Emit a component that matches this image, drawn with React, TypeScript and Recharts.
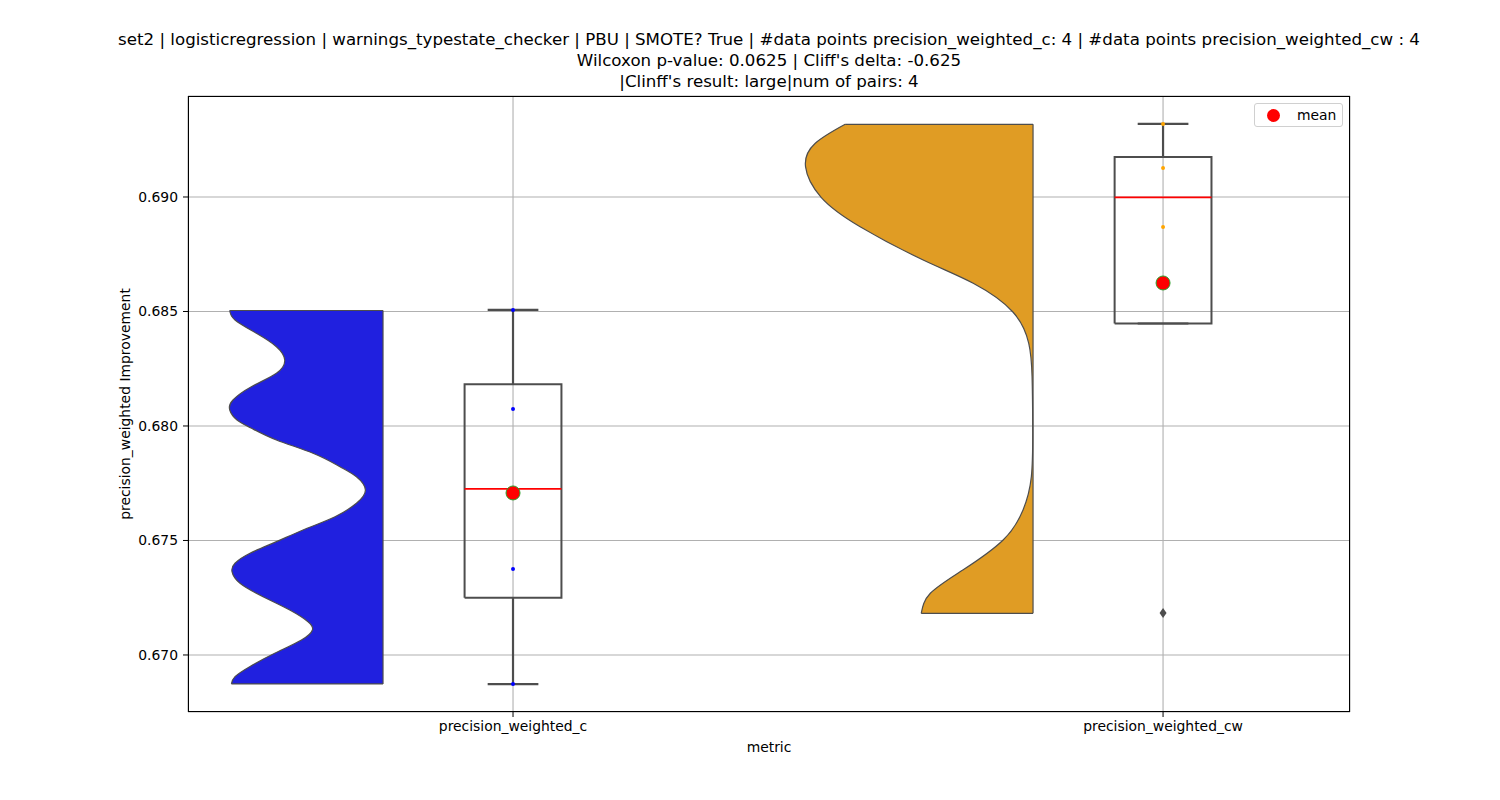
import React from "react";
import {
  Area,
  CartesianGrid,
  ComposedChart,
  Line,
  Scatter,
  XAxis,
  YAxis,
} from "recharts";

const categories = ["precision_weighted_c", "precision_weighted_cw"];
const yTicks = [0.67, 0.675, 0.68, 0.685, 0.69];

// raw points per metric
const pointsC = [0.68507, 0.68074, 0.67376, 0.66873];
const pointsCw = [0.69319, 0.69127, 0.68869, 0.67183];

// box stats
const medians = [0.67725, 0.68998];
const means = [0.677075, 0.686245];
const q1s = [0.6725, 0.684475];
const q3s = [0.68182, 0.69175];
const whiskerLow = [0.66873, 0.684475];
const whiskerHigh = [0.68507, 0.69319];
const outliersCw = [0.67183];

// half violin profiles (value, width in category units)
const violinCValues = [
  0.685044, 0.684629, 0.684048, 0.683463, 0.682882, 0.682301, 0.681716,
  0.681135, 0.680699, 0.680262, 0.679913, 0.679389, 0.678808, 0.678223,
  0.677786, 0.677205, 0.676624, 0.676039, 0.675459, 0.674948, 0.674441,
  0.674004, 0.673638, 0.673131, 0.672546, 0.671965, 0.671454, 0.671092,
  0.670655, 0.670074, 0.669489, 0.669052, 0.668734,
];
const violinCWidths = [
  0.2358, 0.2277, 0.1948, 0.164, 0.1512, 0.164, 0.2025, 0.2308, 0.2358,
  0.2246, 0.2031, 0.164, 0.1077, 0.0662, 0.0409, 0.0271, 0.0409, 0.0738,
  0.1231, 0.164, 0.2046, 0.2277, 0.2323, 0.22, 0.1846, 0.1435, 0.1154,
  0.1086, 0.1255, 0.1666, 0.2051, 0.2277, 0.2332,
];
const violinCwValues = [
  0.693175, 0.692345, 0.691323, 0.689987, 0.688703, 0.687249, 0.686231,
  0.684978, 0.683611, 0.682153, 0.679969, 0.677786, 0.676332, 0.675022,
  0.673712, 0.672694, 0.671821,
];
const violinCwWidths = [
  0.289, 0.335, 0.35, 0.326, 0.266, 0.169, 0.092, 0.031, 0.0066, 0.0015,
  0.0005, 0.0026, 0.0154, 0.046, 0.108, 0.158, 0.172,
];

const FONT = "DejaVu Sans, sans-serif";
const EDGE = "#4d4d4d";
const VIOLIN_GAP = 0.2;
const BOX_HALF = 0.0745;
const CAP_HALF = 0.039;

function violinData(center: number, values: number[], widths: number[]) {
  const base = center - VIOLIN_GAP;
  return values.map((v, i) => ({ v, r: [base, base - widths[i]] }));
}

function endCap(center: number, v: number, w: number) {
  const base = center - VIOLIN_GAP;
  return [
    { v, x: base },
    { v, x: base - w },
  ];
}

function boxOutline(i: number) {
  return [
    { x: i - BOX_HALF, v: q1s[i] },
    { x: i + BOX_HALF, v: q1s[i] },
    { x: i + BOX_HALF, v: q3s[i] },
    { x: i - BOX_HALF, v: q3s[i] },
    { x: i - BOX_HALF, v: q1s[i] },
  ];
}

const seg = (x0: number, v0: number, x1: number, v1: number) => [
  { x: x0, v: v0 },
  { x: x1, v: v1 },
];

const MeanDot = (props: any) => (
  <circle cx={props.cx} cy={props.cy} r={7} fill="#ff0000" stroke="#2ca02c" strokeWidth={1} />
);
const smallDot = (color: string) => (props: any) =>
  <circle cx={props.cx} cy={props.cy} r={2} fill={color} />;
const Diamond = (props: any) => (
  <path
    d={`M${props.cx},${props.cy - 5} L${props.cx + 3.5},${props.cy} L${props.cx},${props.cy + 5} L${props.cx - 3.5},${props.cy} Z`}
    fill={EDGE}
  />
);

export default function App() {
  const violinC = violinData(0, violinCValues, violinCWidths);
  const violinCw = violinData(1, violinCwValues, violinCwWidths);
  const tick = { fill: "#000", fontSize: 13.9, fontFamily: FONT };
  const lastC = violinCValues.length - 1;
  const lastCw = violinCwValues.length - 1;

  const boxLines: { x: number; v: number }[][] = [];
  const whiskers: { x: number; v: number }[][] = [];
  const medianLines: { x: number; v: number }[][] = [];
  [0, 1].forEach((i) => {
    boxLines.push(boxOutline(i));
    whiskers.push(seg(i, whiskerLow[i], i, q1s[i]));
    whiskers.push(seg(i, q3s[i], i, whiskerHigh[i]));
    whiskers.push(seg(i - CAP_HALF, whiskerLow[i], i + CAP_HALF, whiskerLow[i]));
    whiskers.push(seg(i - CAP_HALF, whiskerHigh[i], i + CAP_HALF, whiskerHigh[i]));
    medianLines.push(seg(i - BOX_HALF, medians[i], i + BOX_HALF, medians[i]));
  });

  return (
    <div style={{ position: "absolute", left: 0, top: 0, width: 1500, height: 800, background: "#fff", fontFamily: FONT }}>
      <ComposedChart
        width={1500}
        height={800}
        layout="vertical"
        margin={{ top: 96, right: 150, bottom: 48, left: 108 }}
      >
        <XAxis
          type="number"
          dataKey="x"
          domain={[-0.5, 1.2876]}
          allowDataOverflow
          ticks={[0, 1]}
          tickFormatter={(i: number) => categories[i] ?? ""}
          height={40}
          tick={tick}
          tickSize={5}
          tickMargin={4}
          axisLine={false}
          tickLine={{ stroke: "#000" }}
        />
        <YAxis
          type="number"
          dataKey="v"
          reversed
          domain={[0.66751, 0.69441]}
          allowDataOverflow
          ticks={yTicks}
          tickFormatter={(v: number) => v.toFixed(3)}
          width={80}
          tick={tick}
          tickSize={5}
          tickMargin={5}
          axisLine={false}
          tickLine={{ stroke: "#000" }}
        />
        <Area data={violinC} dataKey="r" type="natural" fill="#2020df" fillOpacity={1} stroke={EDGE} strokeWidth={1.2} isAnimationActive={false} />
        <Area data={violinCw} dataKey="r" type="natural" fill="#e09c24" fillOpacity={1} stroke={EDGE} strokeWidth={1.2} isAnimationActive={false} />
        <Line data={endCap(0, violinCValues[0], violinCWidths[0])} dataKey="x" stroke={EDGE} strokeWidth={1.2} dot={false} isAnimationActive={false} />
        <Line data={endCap(0, violinCValues[lastC], violinCWidths[lastC])} dataKey="x" stroke={EDGE} strokeWidth={1.2} dot={false} isAnimationActive={false} />
        <Line data={endCap(1, violinCwValues[0], violinCwWidths[0])} dataKey="x" stroke={EDGE} strokeWidth={1.2} dot={false} isAnimationActive={false} />
        <Line data={endCap(1, violinCwValues[lastCw], violinCwWidths[lastCw])} dataKey="x" stroke={EDGE} strokeWidth={1.2} dot={false} isAnimationActive={false} />
        <CartesianGrid stroke="#b0b0b0" strokeWidth={1.1} />
        {boxLines.map((d, k) => (
          <Line key={"b" + k} data={d} dataKey="x" type="linear" stroke={EDGE} strokeWidth={2} dot={false} isAnimationActive={false} />
        ))}
        {whiskers.map((d, k) => (
          <Line key={"w" + k} data={d} dataKey="x" type="linear" stroke={EDGE} strokeWidth={2.2} dot={false} isAnimationActive={false} />
        ))}
        <Scatter data={pointsC.map((v) => ({ x: 0, v }))} shape={smallDot("#0000ff")} isAnimationActive={false} />
        <Scatter data={pointsCw.map((v) => ({ x: 1, v }))} shape={smallDot("#ffa500")} isAnimationActive={false} />
        <Scatter data={outliersCw.map((v) => ({ x: 1, v }))} shape={Diamond} isAnimationActive={false} />
        {medianLines.map((d, k) => (
          <Line key={"m" + k} data={d} dataKey="x" type="linear" stroke="#ff0000" strokeWidth={1.8} dot={false} isAnimationActive={false} />
        ))}
        <Scatter data={means.map((v, i) => ({ x: i, v }))} shape={MeanDot} isAnimationActive={false} />
      </ComposedChart>

      {/* axes frame */}
      <div style={{ position: "absolute", left: 188, top: 96, width: 1162, height: 616, border: "1px solid #000", boxSizing: "border-box", pointerEvents: "none" }} />

      {/* title */}
      {[
        "set2 | logisticregression | warnings_typestate_checker | PBU | SMOTE? True | #data points precision_weighted_c: 4 | #data points precision_weighted_cw : 4",
        "Wilcoxon p-value: 0.0625 | Cliff's delta: -0.625",
        "|Clinff's result: large|num of pairs: 4",
      ].map((t, i) => (
        <div key={i} style={{ position: "absolute", left: 769, top: 29 + i * 21, transform: "translateX(-50%)", whiteSpace: "nowrap", fontSize: 16.67, lineHeight: "21px", color: "#000" }}>
          {t}
        </div>
      ))}

      <div style={{ position: "absolute", left: 769, top: 738, transform: "translateX(-50%)", fontSize: 13.9, lineHeight: "18px" }}>metric</div>
      <div style={{ position: "absolute", left: 125, top: 404, transform: "translate(-50%, -50%) rotate(-90deg)", whiteSpace: "nowrap", fontSize: 13.9, lineHeight: "18px" }}>
        precision_weighted Improvement
      </div>

      {/* legend */}
      <div style={{ position: "absolute", left: 1254, top: 103, width: 89, height: 24, border: "1px solid #d0d0d0", borderRadius: 3, boxSizing: "border-box", background: "rgba(255,255,255,0.8)" }}>
        <div style={{ position: "absolute", left: 12, top: 5, width: 13, height: 13, borderRadius: "50%", background: "#ff0000" }} />
        <div style={{ position: "absolute", left: 42, top: 2, fontSize: 13.9, lineHeight: "18px" }}>mean</div>
      </div>
    </div>
  );
}
